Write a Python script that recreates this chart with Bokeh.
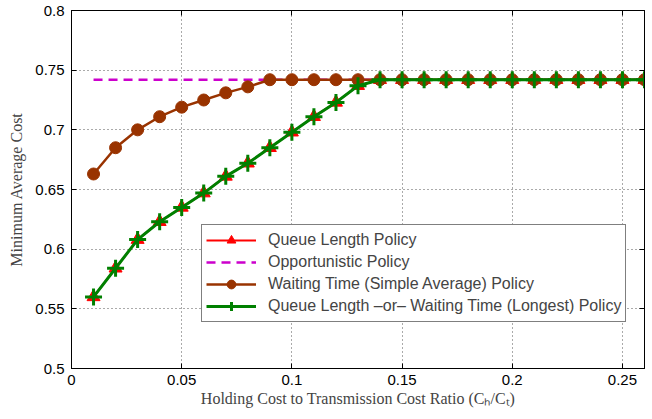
from bokeh.plotting import figure
from bokeh.models import (Range1d, LinearAxis, FixedTicker, Legend, LegendItem,
                          Grid, CustomLabelingPolicy)
from bokeh.embed import file_html
from bokeh.resources import INLINE

# ---------------- data ----------------
ratio = [0.01, 0.02, 0.03, 0.04, 0.05, 0.06, 0.07, 0.08, 0.09, 0.10,
         0.11, 0.12, 0.13, 0.14, 0.15, 0.16, 0.17, 0.18, 0.19, 0.20,
         0.21, 0.22, 0.23, 0.24, 0.25, 0.26]

queue_length = [0.560, 0.584, 0.608, 0.623, 0.635, 0.647, 0.661, 0.672, 0.685, 0.698,
                0.711, 0.723, 0.737, 0.742, 0.742, 0.742, 0.742, 0.742, 0.742, 0.742,
                0.742, 0.742, 0.742, 0.742, 0.742, 0.742]

opportunistic = [0.742, 0.742, 0.742, 0.742, 0.742, 0.742, 0.742, 0.742, 0.742, 0.742,
                 0.742, 0.742, 0.742, 0.742, 0.742, 0.742, 0.742, 0.742, 0.742, 0.742,
                 0.742, 0.742, 0.742, 0.742, 0.742, 0.742]

waiting_avg = [0.663, 0.685, 0.700, 0.711, 0.719, 0.725, 0.731, 0.736, 0.742, 0.742,
               0.742, 0.742, 0.742, 0.742, 0.742, 0.742, 0.742, 0.742, 0.742, 0.742,
               0.742, 0.742, 0.742, 0.742, 0.742, 0.742]

ql_or_wt = [0.560, 0.584, 0.608, 0.623, 0.635, 0.647, 0.661, 0.672, 0.685, 0.698,
            0.711, 0.723, 0.737, 0.742, 0.742, 0.742, 0.742, 0.742, 0.742, 0.742,
            0.742, 0.742, 0.742, 0.742, 0.742, 0.742]

x_ticks = [0, 0.05, 0.1, 0.15, 0.2, 0.25]
x_tick_labels = ["0", "0.05", "0.1", "0.15", "0.2", "0.25"]
y_ticks = [0.5, 0.55, 0.6, 0.65, 0.7, 0.75, 0.8]
y_tick_labels = ["0.5", "0.55", "0.6", "0.65", "0.7", "0.75", "0.8"]

series_names = ["Queue Length Policy",
                "Opportunistic Policy",
                "Waiting Time (Simple Average) Policy",
                "Queue Length \u2013or\u2013 Waiting Time (Longest) Policy"]

x_label = "Holding Cost to Transmission Cost Ratio (C\u2095/C\u209c)"
y_label = "Minimum Average Cost"

# ---------------- figure ----------------
p = figure(width=652, height=419, output_backend="svg", toolbar_location=None,
           x_range=Range1d(0, 0.26), y_range=Range1d(0.5, 0.8),
           min_border_left=71, min_border_right=8, min_border_top=10, min_border_bottom=51,
           x_axis_location=None, y_axis_location=None)
p.background_fill_color = "white"
p.border_fill_color = "white"
p.outline_line_color = "black"
p.outline_line_width = 1
p.xgrid.visible = False
p.ygrid.visible = False

tick_font = "Liberation Sans"
label_font = "Liberation Serif"

hide_all = CustomLabelingPolicy(
    code="for (let i = 0; i < indices.size; i++) { indices.unset(i) } return indices")

def style_axis(ax, ticks, labels, show_labels):
    ax.ticker = FixedTicker(ticks=ticks)
    ax.major_label_overrides = {t: l for t, l in zip(ticks, labels)}
    ax.major_tick_in = 5
    ax.major_tick_out = 0
    ax.minor_tick_in = 0
    ax.minor_tick_out = 0
    ax.axis_line_color = "black"
    ax.major_tick_line_color = "black"
    ax.major_label_text_font = tick_font
    ax.major_label_text_color = "black"
    if show_labels:
        ax.major_label_text_font_size = "15px"
        ax.major_label_standoff = 6
    else:
        ax.major_label_text_font_size = "0px"
        ax.major_label_policy = hide_all
        ax.major_label_standoff = 0

xb = LinearAxis(axis_label=x_label)
style_axis(xb, x_ticks, x_tick_labels, True)
xb.axis_label_text_font = label_font
xb.axis_label_text_font_style = "normal"
xb.axis_label_text_font_size = "16px"
xb.axis_label_standoff = 2
p.add_layout(xb, "below")

yl = LinearAxis(axis_label=y_label)
style_axis(yl, y_ticks, y_tick_labels, True)
yl.major_label_standoff = 7
yl.axis_label_text_font = label_font
yl.axis_label_text_font_style = "normal"
yl.axis_label_text_font_size = "16px"
yl.axis_label_standoff = 7
p.add_layout(yl, "left")

xt = LinearAxis()
style_axis(xt, x_ticks, x_tick_labels, False)
p.add_layout(xt, "above")

yr = LinearAxis()
style_axis(yr, y_ticks, y_tick_labels, False)
p.add_layout(yr, "right")

gx = Grid(dimension=0, ticker=xb.ticker, grid_line_color="#555555",
          grid_line_dash="1 3", grid_line_width=1)
gy = Grid(dimension=1, ticker=yl.ticker, grid_line_color="#555555",
          grid_line_dash="1 3", grid_line_width=1)
p.add_layout(gx)
p.add_layout(gy)

red = "#ff0000"
mag = "#cc00cc"
brown = "#993300"
green = "#008000"

r1l = p.line(ratio, queue_length, line_color=red, line_width=2)
r1m = p.scatter(ratio, queue_length, marker="triangle", size=13,
                fill_color=red, line_color=red)
r2l = p.line(ratio, opportunistic, line_color=mag, line_width=2.5, line_dash="9 6")
r3l = p.line(ratio, waiting_avg, line_color=brown, line_width=2.5)
r3m = p.scatter(ratio, waiting_avg, marker="circle", size=12,
                fill_color=brown, line_color=brown)
r4l = p.line(ratio, ql_or_wt, line_color=green, line_width=3)
r4m = p.scatter(ratio, ql_or_wt, marker="cross", size=17,
                line_color=green, line_width=3)

legend = Legend(items=[
    LegendItem(label=series_names[0], renderers=[r1l, r1m]),
    LegendItem(label=series_names[1], renderers=[r2l]),
    LegendItem(label=series_names[2], renderers=[r3l, r3m]),
    LegendItem(label=series_names[3], renderers=[r4l, r4m]),
], location=(130, 46))
legend.border_line_color = "black"
legend.border_line_width = 1
legend.background_fill_color = "white"
legend.background_fill_alpha = 1
legend.label_text_font = tick_font
legend.label_text_font_size = "16px"
legend.glyph_width = 50
legend.glyph_height = 22
legend.label_height = 22
legend.label_standoff = 12
legend.padding = 4
legend.spacing = 0
legend.margin = 0
p.add_layout(legend, "center")

open("out.html", "w").write(file_html(p, INLINE))
